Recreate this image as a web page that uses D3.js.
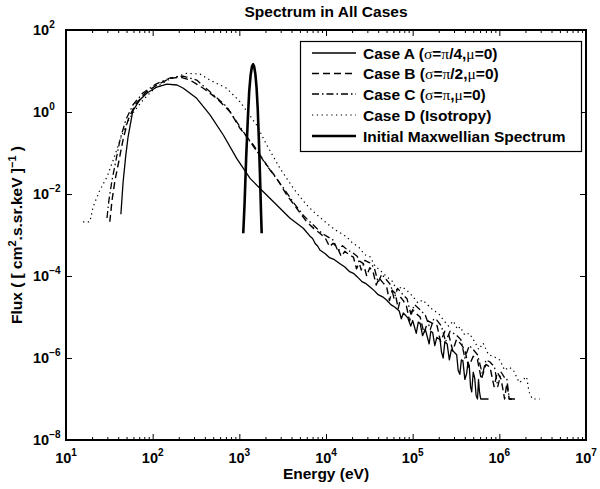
<!DOCTYPE html>
<html>
<head>
<meta charset="utf-8">
<script src="https://cdn.jsdelivr.net/npm/d3@7"></script>
<style>
body { margin: 0; background: #fff; }
text { font-family: "Liberation Sans", Arial, sans-serif; font-weight: bold; fill: #000; }
.greek { font-family: "Liberation Serif", "DejaVu Serif", serif; font-weight: normal; }
</style>
</head>
<body>
<svg id="chart" width="600" height="489"></svg>
<script>
// values: [energy (eV), flux]
var caseA = [
  [43, 3.2e-3], [45.5, 1.85e-2], [49, 8.9e-2], [52, 0.245], [59, 1.06], [71, 1.96], [86, 2.9],
  [112, 4.07], [146, 4.8], [191, 4.56], [226, 3.8], [322, 2.16], [459, 0.85], [653, 0.275],
  [932, 0.074], [1330, 0.024], [1890, 0.0114], [2700, 5.4e-3], [3850, 2.55e-3], [5470, 1.46e-3],
  [6500, 9.5e-4], [7000, 8.2e-4], [7500, 6.2e-4], [8000, 5.4e-4], [8500, 4.3e-4], [9800, 3.5e-4],
  [11000, 2.8e-4], [12500, 2.5e-4], [14500, 2.0e-4], [16500, 1.65e-4], [18500, 1.3e-4],
  [20700, 1.16e-4], [23000, 9.5e-5], [26000, 7.3e-5], [29000, 6.5e-5], [32200, 5.4e-5],
  [36000, 4.4e-5], [40000, 3.5e-5], [45000, 3.1e-5], [50000, 2.6e-5], [56000, 2.0e-5],
  [62000, 1.75e-5], [70000, 1.4e-5], [74000, 9e-6], [78000, 1.25e-5], [88000, 9.5e-6],
  [95000, 6e-6], [100000, 8.2e-6], [110000, 4e-6], [116000, 7.5e-6], [122000, 7e-6],
  [130000, 3.5e-6], [140000, 5e-6], [155000, 2.2e-6], [162000, 4.5e-6], [170000, 4.2e-6],
  [180000, 2.0e-6], [190000, 3.2e-6], [207000, 2.8e-6], [215000, 1.4e-6], [225000, 1.0e-6],
  [235000, 2.5e-6], [250000, 2.2e-6], [265000, 9e-7], [280000, 1.6e-6], [300000, 1.4e-6],
  [322000, 1.2e-6], [335000, 5e-7], [350000, 4e-7], [365000, 9e-7], [380000, 8.5e-7],
  [400000, 3e-7], [420000, 4.2e-7], [435000, 8e-7], [450000, 6.5e-7], [465000, 2e-7],
  [480000, 1.5e-7], [500000, 4.5e-7], [520000, 3.2e-7], [540000, 1.2e-7], [560000, 1e-7],
  [575000, 3e-7], [590000, 1.5e-7], [610000, 1e-7], [750000, 1e-7]
];
var caseB = [
  [32, 2.1e-3], [34, 7.1e-3], [36.8, 0.022], [41, 0.068], [45.5, 0.21], [52, 0.64], [62.5, 1.48],
  [81.6, 2.9], [112, 4.56], [158, 6.6], [207, 7.1], [270, 6.0], [384, 3.8], [548, 2.16],
  [780, 1.02], [1018, 0.4], [1450, 0.157], [2070, 0.051], [2700, 0.024], [3520, 9.5e-3],
  [4590, 4.5e-3], [5980, 2.1e-3], [7200, 1.45e-3], [8500, 1.1e-3], [9800, 8.5e-4],
  [11000, 5.2e-4], [12100, 6.3e-4], [13500, 5.0e-4], [15000, 3.0e-4], [16500, 4.0e-4],
  [18500, 3.3e-4], [20700, 2.9e-4], [22500, 1.5e-4], [24500, 2.3e-4], [27000, 2.0e-4],
  [29500, 1.0e-4], [32000, 1.6e-4], [35000, 1.25e-4], [38000, 6e-5], [41000, 9e-5],
  [45000, 7e-5], [50000, 5.5e-5], [54000, 2.5e-5], [58000, 4.5e-5], [63000, 3.8e-5],
  [68000, 1.6e-5], [73000, 3.0e-5], [78000, 2.5e-5], [85000, 1.8e-5], [92000, 8e-6],
  [100000, 1.5e-5], [110000, 1.2e-5], [122000, 1.0e-5], [135000, 4e-6], [150000, 8e-6],
  [170000, 7e-6], [190000, 6.5e-6], [210000, 2.5e-6], [235000, 4.5e-6], [260000, 3.8e-6],
  [290000, 1.5e-6], [320000, 2.8e-6], [360000, 2.2e-6], [400000, 1.6e-6], [440000, 6e-7],
  [500000, 1.1e-6], [560000, 9e-7], [620000, 3e-7], [700000, 7e-7], [780000, 6e-7],
  [870000, 2e-7], [950000, 4.5e-7], [1050000, 3e-7], [1150000, 1e-7], [1220000, 2.4e-7],
  [1300000, 1e-7], [1400000, 1e-7]
];
var caseC = [
  [29.7, 2.6e-3], [31.3, 7.1e-3], [34, 0.022], [37.8, 0.068], [42, 0.21], [49, 0.64], [59, 1.48],
  [77, 2.9], [109, 4.8], [158, 6.75], [224, 7.5], [322, 6.0], [459, 3.1], [714, 1.35],
  [1112, 0.33], [1556, 0.118], [2260, 0.0385], [3110, 0.0157], [4160, 6.4e-3], [5570, 2.9e-3],
  [7700, 1.5e-3], [9000, 1.1e-3], [10500, 9e-4], [12100, 7.5e-4], [13800, 4e-4], [15500, 5.5e-4],
  [17500, 4.4e-4], [20700, 3.6e-4], [23000, 3.0e-4], [25500, 1.4e-4], [28000, 2.4e-4],
  [32000, 2.1e-4], [36000, 1.6e-4], [40000, 7e-5], [44000, 1.1e-4], [50000, 8e-5],
  [56000, 6e-5], [61000, 2.8e-5], [67000, 5.0e-5], [78000, 3.4e-5], [86000, 2.8e-5],
  [95000, 1.2e-5], [105000, 2.0e-5], [122000, 1.5e-5], [140000, 1.1e-5], [160000, 5e-6],
  [175000, 9e-6], [190000, 8.4e-6], [215000, 6e-6], [240000, 2.5e-6], [270000, 4.5e-6],
  [320000, 3.6e-6], [360000, 2.8e-6], [400000, 1e-6], [450000, 2.0e-6], [500000, 1.6e-6],
  [560000, 1.2e-6], [640000, 4e-7], [700000, 9e-7], [780000, 8e-7], [880000, 6e-7],
  [960000, 2e-7], [1050000, 4.5e-7], [1150000, 3.3e-7], [1220000, 3.2e-7], [1300000, 1e-7],
  [1550000, 1e-7]
];
var caseD = [
  [15.7, 2.1e-3], [18.9, 2.1e-3], [20.5, 4.8e-3], [24.6, 0.0125], [29.7, 0.026], [35.8, 0.0755],
  [42, 0.207], [50.6, 0.54], [59.3, 0.95], [77.3, 1.96], [106, 3.85], [158, 6.4], [247, 8.8],
  [352, 8.45], [459, 6.0], [714, 3.8], [1018, 1.78], [1585, 0.48], [2070, 0.157], [2940, 0.0424],
  [4200, 0.0138], [5980, 5.4e-3], [7500, 3.4e-3], [10200, 1.93e-3], [13000, 1.3e-3],
  [17300, 9.1e-4], [20000, 6.5e-4], [24000, 5.0e-4], [28000, 3.3e-4], [32200, 2.96e-4],
  [37000, 1.7e-4], [42000, 1.4e-4], [50100, 9.6e-5], [58000, 7.5e-5], [66000, 4.5e-5],
  [75000, 5.5e-5], [85300, 4.5e-5], [100000, 3.2e-5], [115000, 2.2e-5], [130000, 2.6e-5],
  [145000, 2.1e-5], [170000, 1.5e-5], [200000, 1.2e-5], [230000, 8e-6], [260000, 6e-6],
  [294000, 8e-6], [330000, 5e-6], [352000, 5.8e-6], [400000, 3.6e-6], [450000, 4e-6],
  [520000, 2.5e-6], [580000, 1.6e-6], [650000, 2.3e-6], [750000, 1.2e-6], [850000, 1.1e-6],
  [1020000, 8.9e-7], [1150000, 5e-7], [1300000, 6e-7], [1450000, 5.1e-7], [1700000, 2.5e-7],
  [2060000, 3.5e-7], [2200000, 1.5e-7], [2400000, 1e-7], [2940000, 1e-7]
];
var maxwellian = [
  [1110, 1.1e-3], [1150, 6e-3], [1200, 0.08], [1250, 0.6], [1300, 3.2], [1350, 8], [1400, 13],
  [1440, 14.6], [1480, 13], [1530, 8.5], [1580, 4], [1630, 1.2], [1680, 0.22], [1730, 0.03],
  [1780, 3.5e-3], [1811, 1.1e-3]
];

var xMajor = [1e1, 1e2, 1e3, 1e4, 1e5, 1e6, 1e7];
var xExp = ["1", "2", "3", "4", "5", "6", "7"];
var yMajor = [1e-8, 1e-6, 1e-4, 1e-2, 1e0, 1e2];
var yExp = ["\u22128", "\u22126", "\u22124", "\u22122", "0", "2"];

var legendLabels = [
  ["Case A (", "\u03c3", "=", "\u03c0", "/4,", "\u03bc", "=0)"],
  ["Case B (", "\u03c3", "=", "\u03c0", "/2,", "\u03bc", "=0)"],
  ["Case C (", "\u03c3", "=", "\u03c0", ",", "\u03bc", "=0)"],
  ["Case D (Isotropy)"],
  ["Initial Maxwellian Spectrum"]
];

var plotLeft = 66, plotRight = 586, plotTop = 30, plotBottom = 440;
var svg = d3.select("#chart");

var x = d3.scaleLog().domain([1e1, 1e7]).range([plotLeft, plotRight]);
var y = d3.scaleLog().domain([1e-8, 1e2]).range([plotBottom, plotTop]);

var xMinor = [];
xMajor.slice(0, -1).forEach(function(d) {
  d3.range(2, 10).forEach(function(k) { xMinor.push(d * k); });
});

// ticks on all four sides, pointing inwards
function tickGroup(axis, tx, ty) {
  var g = svg.append("g").attr("transform", "translate(" + tx + "," + ty + ")").call(axis);
  g.select(".domain").remove();
  g.selectAll("text").remove();
  g.selectAll("line").attr("stroke", "#000").attr("stroke-width", 1);
  return g;
}
tickGroup(d3.axisBottom(x).tickValues(xMajor).tickSize(-6), 0, plotBottom);
tickGroup(d3.axisBottom(x).tickValues(xMinor).tickSize(-3), 0, plotBottom);
tickGroup(d3.axisTop(x).tickValues(xMajor).tickSize(-6), 0, plotTop);
tickGroup(d3.axisTop(x).tickValues(xMinor).tickSize(-3), 0, plotTop);
tickGroup(d3.axisLeft(y).tickValues(yMajor).tickSize(-6), plotLeft, 0);
tickGroup(d3.axisRight(y).tickValues(yMajor).tickSize(-6), plotRight, 0);

// tick labels as 10^n
xMajor.forEach(function(d, i) {
  var t = svg.append("text").attr("x", x(d)).attr("y", 463)
    .attr("text-anchor", "middle").style("font-size", "14.5px");
  t.append("tspan").text("10");
  t.append("tspan").attr("dy", -7).style("font-size", "10px").text(xExp[i]);
});
yMajor.forEach(function(d, i) {
  var t = svg.append("text").attr("x", 33).attr("y", y(d) + 5).style("font-size", "14.5px");
  t.append("tspan").text("10");
  t.append("tspan").attr("dy", -7).style("font-size", "10px").text(yExp[i]);
});

var line = d3.line().x(function(d) { return x(d[0]); }).y(function(d) { return y(d[1]); });

var series = [
  { data: caseA, width: 1.3, dash: null },
  { data: caseB, width: 1.4, dash: "7,4" },
  { data: caseC, width: 1.3, dash: "7,3,1.5,3" },
  { data: caseD, width: 1.2, dash: "1.3,3.5" },
  { data: maxwellian, width: 2.6, dash: null }
];

series.forEach(function(s) {
  svg.append("path").datum(s.data)
    .attr("d", line)
    .attr("fill", "none")
    .attr("stroke", "#000")
    .attr("stroke-width", s.width)
    .attr("stroke-linejoin", "round")
    .attr("stroke-dasharray", s.dash);
});

// axes frame
svg.append("rect").attr("x", plotLeft).attr("y", plotTop)
  .attr("width", plotRight - plotLeft).attr("height", plotBottom - plotTop)
  .attr("fill", "none").attr("stroke", "#000").attr("stroke-width", 2);

// legend
var legend = svg.append("g");
legend.append("rect").attr("x", 300.5).attr("y", 41.5).attr("width", 281).attr("height", 110)
  .attr("fill", "#fff").attr("stroke", "#000").attr("stroke-width", 1.2);
var rowY = [53, 73.5, 94, 115, 136];
legendLabels.forEach(function(parts, i) {
  var s = series[i];
  legend.append("line").attr("x1", 312).attr("x2", 356).attr("y1", rowY[i]).attr("y2", rowY[i])
    .attr("stroke", "#000").attr("stroke-width", s.width).attr("stroke-dasharray", s.dash);
  var t = legend.append("text").attr("x", 363).attr("y", rowY[i] + 5.5).style("font-size", "15.5px");
  parts.forEach(function(p, j) {
    t.append("tspan").attr("class", j % 2 === 1 ? "greek" : null).text(p);
  });
});

// title and axis labels
svg.append("text").attr("x", (plotLeft + plotRight) / 2).attr("y", 17)
  .attr("text-anchor", "middle").style("font-size", "15.5px").text("Spectrum in All Cases");
svg.append("text").attr("x", (plotLeft + plotRight) / 2).attr("y", 479)
  .attr("text-anchor", "middle").style("font-size", "15.5px").text("Energy (eV)");
var yl = svg.append("text").attr("transform", "translate(22,235) rotate(-90)")
  .attr("text-anchor", "middle").style("font-size", "15.5px");
yl.append("tspan").text("Flux ( [ cm");
yl.append("tspan").attr("dy", -6).style("font-size", "11px").text("2");
yl.append("tspan").attr("dy", 6).text(".s.sr.keV ]");
yl.append("tspan").attr("dy", -6).style("font-size", "11px").text("\u22121");
yl.append("tspan").attr("dy", 6).text(" )");
</script>
</body>
</html>
